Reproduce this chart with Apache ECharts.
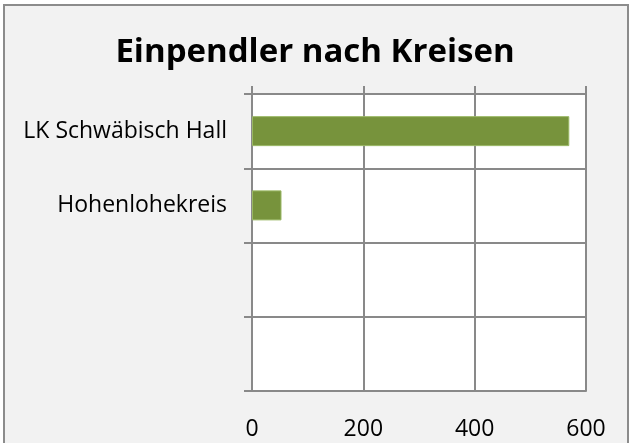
<!DOCTYPE html>
<html>
<head>
<meta charset="utf-8">
<script src="https://cdn.jsdelivr.net/npm/echarts@6/dist/echarts.min.js"></script>
<style>
  html, body { margin: 0; padding: 0; background: #fff; overflow: hidden; }
  .frame {
    position: absolute; left: 3px; top: 4px;
    width: 622px; height: 460px;
    border: 2px solid #8c8c8c; background: #f2f2f2;
  }
  #chart { position: absolute; left: 0; top: 0; width: 630px; height: 443px; }
</style>
</head>
<body>
<div class="frame"></div>
<div id="chart"></div>
<script>
// Kreise (leere Zeilen wie im Original)
const categories = ['LK Schwäbisch Hall', 'Hohenlohekreis', '', '']
const values = [570, 53, null, null]
const xTicks = [0, 200, 400, 600]

const gridColor = '#898989'
const font = '"Open Sans", "DejaVu Sans", sans-serif'

const myChart = echarts.init(document.getElementById('chart'))
const option = {
  backgroundColor: 'transparent',
  animation: false,
  title: {
    text: 'Einpendler nach Kreisen',
    left: 'center',
    top: 31,
    textStyle: {
      fontFamily: font,
      fontSize: 33,
      fontWeight: 'bold',
      color: '#000'
    }
  },
  grid: {
    show: true,
    backgroundColor: '#fff',
    borderWidth: 0,
    left: 252,
    right: 44,
    top: 94,
    bottom: 52
  },
  xAxis: [
    {
      type: 'value',
      position: 'bottom',
      min: xTicks[0],
      max: xTicks[xTicks.length - 1],
      interval: 200,
      axisLine: {show: true, lineStyle: {color: gridColor, width: 2}},
      axisTick: {show: false},
      axisLabel: {
        margin: 27,
        color: '#000',
        fontFamily: font,
        fontSize: 23
      },
      splitLine: {show: true, lineStyle: {color: gridColor, width: 2}}
    },
    {
      // nur Striche oben
      type: 'value',
      position: 'top',
      min: xTicks[0],
      max: xTicks[xTicks.length - 1],
      interval: 200,
      axisLine: {show: true, lineStyle: {color: gridColor, width: 2}},
      axisTick: {show: true, length: 8, lineStyle: {color: gridColor, width: 2}},
      axisLabel: {show: false},
      splitLine: {show: false}
    }
  ],
  yAxis: {
    type: 'category',
    inverse: true,
    data: categories,
    axisLine: {show: true, lineStyle: {color: gridColor, width: 2}},
    axisTick: {show: true, length: 8, lineStyle: {color: gridColor, width: 2}},
    axisLabel: {
      margin: 25,
      color: '#000',
      fontFamily: font,
      fontSize: 23
    },
    splitLine: {show: true, lineStyle: {color: gridColor, width: 2}}
  },
  series: [
    {
      type: 'bar',
      data: values,
      barWidth: 30,
      itemStyle: {
        color: '#77933c',
        borderColor: '#9bb866',
        borderWidth: 1
      }
    }
  ]
}
myChart.setOption(option)
</script>
</body>
</html>
